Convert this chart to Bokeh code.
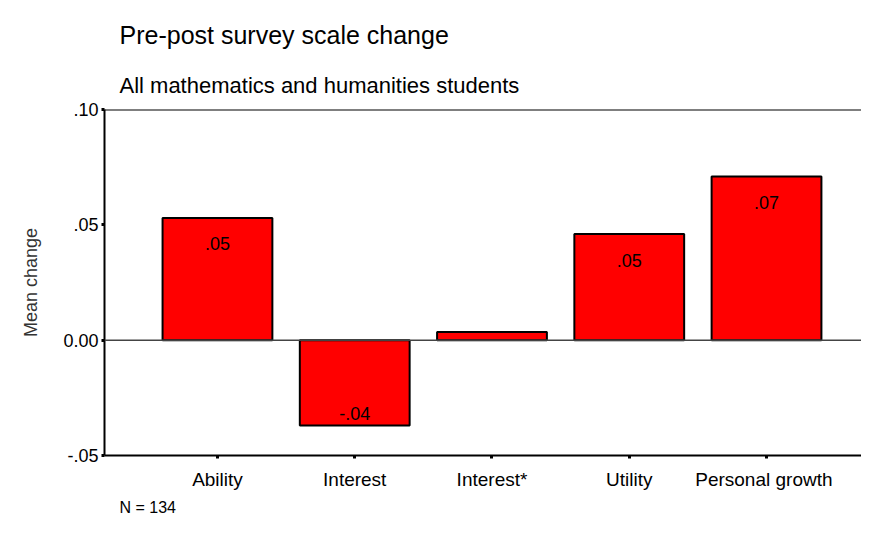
from bokeh.plotting import figure
from bokeh.models import ColumnDataSource, Range1d, FixedTicker, Span, Title
from bokeh.core.properties import value
from bokeh.embed import file_html
from bokeh.resources import INLINE

# ---- data ----
categories = ["Ability", "Interest", "Interest*", "Utility", "Personal  growth"]
mean_change = [0.053, -0.037, 0.0035, 0.046, 0.071]
y_ticks = [-0.05, 0.0, 0.05, 0.10]
y_tick_labels = ["-.05", "0.00", ".05", ".10"]
title_text = "Pre-post survey scale change"
subtitle_text = "All mathematics and humanities students"
note_text = "N = 134"

FONT = "Liberation Sans"

def fmt(v):
    s = f"{abs(v):.2f}".lstrip("0")
    return ("-" if v < 0 else "") + s

xs = list(range(1, len(categories) + 1))
labels = [fmt(v) if abs(v) >= 0.01 else "" for v in mean_change]
offsets = [26 if v > 0 else -12 for v in mean_change]
src = ColumnDataSource(dict(x=xs, top=mean_change, label=labels, yoff=offsets))

p = figure(width=861, height=522, output_backend="svg", toolbar_location=None,
           x_range=Range1d(0.177, 5.692), y_range=Range1d(-0.05, 0.10),
           min_border_left=104, min_border_top=109, min_border_bottom=67,
           min_border_right=0)
p.outline_line_color = None
p.grid.visible = False
p.background_fill_color = "white"
p.border_fill_color = "white"

p.vbar(x="x", top="top", bottom=0, width=0.8, source=src,
       fill_color="#ff0000", line_color="black", line_width=2)

p.add_layout(Span(location=0, dimension="width", line_color="#444444", line_width=1.5))
p.add_layout(Span(location=0.10, dimension="width", line_color="black", line_width=2))

p.text(x="x", y="top", text="label", source=src, y_offset="yoff",
       text_align="center", text_baseline="middle",
       text_font=value(FONT), text_font_size="18px", text_color="black")

# y axis
ya = p.yaxis[0]
ya.ticker = FixedTicker(ticks=y_ticks)
ya.major_label_overrides = {t: l for t, l in zip(y_ticks, y_tick_labels)}
ya.minor_tick_line_color = None
ya.major_tick_in = 0
ya.major_tick_out = 3
ya.major_tick_line_width = 3
ya.axis_line_width = 2
ya.axis_line_color = "black"
ya.major_label_text_font = FONT
ya.major_label_text_font_size = "18px"
ya.major_label_text_color = "black"
ya.major_label_standoff = 3
ya.axis_label = "Mean change"
ya.axis_label_text_font = FONT
ya.axis_label_text_font_style = "normal"
ya.axis_label_text_font_size = "18px"
ya.axis_label_text_color = "#333333"
ya.axis_label_standoff = 19

# x axis
xa = p.xaxis[0]
xa.ticker = FixedTicker(ticks=xs)
xa.major_label_overrides = {x: c for x, c in zip(xs, categories)}
xa.minor_tick_line_color = None
xa.major_tick_in = 0
xa.major_tick_out = 3
xa.major_tick_line_width = 3
xa.axis_line_width = 2
xa.axis_line_color = "black"
xa.major_label_text_font = FONT
xa.major_label_text_font_size = "19px"
xa.major_label_text_color = "black"
xa.major_label_standoff = 10

# main title (outermost) and subtitle (nearest the frame), note below
p.title.text = title_text
p.title.align = "left"
p.title.offset = 15
p.title.text_font = FONT
p.title.text_font_size = "25px"
p.title.text_font_style = "normal"
p.title.text_color = "black"
p.title.standoff = 20

p.add_layout(Title(text=subtitle_text, align="left", offset=15, text_font=FONT,
                   text_font_size="22px", text_font_style="normal",
                   text_color="black", standoff=24), "above")

p.add_layout(Title(text=note_text, align="left", offset=15, text_font=FONT,
                   text_font_size="16px", text_font_style="normal",
                   text_color="black", standoff=8), "below")

open("out.html", "w").write(file_html(p, INLINE))
